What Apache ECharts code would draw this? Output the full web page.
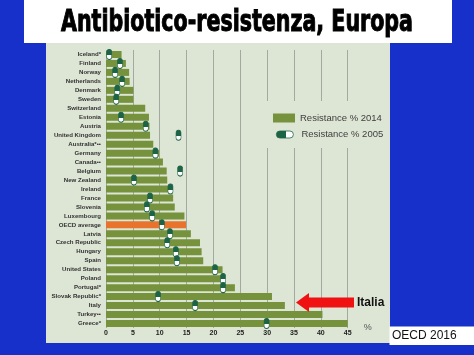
<!DOCTYPE html>
<html><head><meta charset="utf-8">
<script src="https://cdn.jsdelivr.net/npm/echarts/dist/echarts.min.js"></script>
<style>html,body{margin:0;padding:0;background:#1730c9;}#c{width:474px;height:355px;}</style>
</head><body><div id="c"></div>
<script>
const categories = ['Iceland*','Finland','Norway','Netherlands','Denmark','Sweden','Switzerland','Estonia','Austria','United Kingdom','Australia*••','Germany','Canada••','Belgium','New Zealand','Ireland','France','Slovenia','Luxembourg','OECD average','Latvia','Czech Republic','Hungary','Spain','United States','Poland','Portugal*','Slovak Republic*','Italy','Turkey••','Greece*'];
const resistance2014 = [2.9,3.7,4.3,4.4,5.1,5.1,7.3,8.0,8.1,8.2,8.8,9.9,10.6,11.3,11.4,12.2,12.5,12.8,14.6,14.9,15.8,17.5,17.8,18.1,21.7,21.8,24.0,30.9,33.3,40.3,45.0];
const resistance2005 = [0.6,2.6,1.7,3.0,2.1,1.9,null,2.8,7.4,13.5,null,9.2,null,13.8,5.2,12.0,8.2,7.6,8.6,10.4,11.9,11.4,13.0,13.2,20.3,21.8,21.8,9.7,16.6,null,29.9];
const xTicks = [0,5,10,15,20,25,30,35,40,45];
const seriesNames = ['Resistance % 2014','Resistance % 2005'];
const titleText = 'Antibiotico-resistenza, Europa';
const noteText = 'OECD 2016';
const arrowLabel = 'Italia';
const highlightCategory = 'OECD average';

const DARK = '#1d6447';
const pillV = 'path://M0,2.5A2.5,2.5,0,0,1,5,2.5L5,7.5A2.5,2.5,0,0,1,0,7.5Z';
const pillH = 'path://M3.5,0L13.5,0A3.5,3.5,0,0,1,13.5,7L3.5,7A3.5,3.5,0,0,1,3.5,0Z';
const gradV = new echarts.graphic.LinearGradient(0,0,0,1,[{offset:0,color:DARK},{offset:0.55,color:DARK},{offset:0.55,color:'#ffffff'},{offset:1,color:'#ffffff'}]);
const gradH = new echarts.graphic.LinearGradient(0,0,1,0,[{offset:0,color:DARK},{offset:0.55,color:DARK},{offset:0.55,color:'#ffffff'},{offset:1,color:'#ffffff'}]);

const titleFontFamily = "'DejaVu Sans Condensed','DejaVu Sans',sans-serif";
const ctx = document.createElement('canvas').getContext('2d');
ctx.font = "bold 30px " + titleFontFamily;
const tScale = 352 / ctx.measureText(titleText).width;

const chart = echarts.init(document.getElementById('c'), null, {renderer:'canvas'});
chart.setOption({
  backgroundColor:'#1730c9',
  animation:false,
  grid:{left:106, width:241.7, top:50, height:278},
  xAxis:{type:'value', min:xTicks[0], max:xTicks[xTicks.length-1], interval:5,
    axisLine:{show:false}, axisTick:{show:false},
    splitLine:{show:true, lineStyle:{color:'#a2a9a0', width:1}},
    axisLabel:{margin:2, fontSize:7, fontWeight:'bold', color:'#222', fontFamily:"'Liberation Sans',sans-serif"},
    name:'%', nameLocation:'end', nameGap:16,
    nameTextStyle:{color:'#555', fontSize:9, verticalAlign:'middle', fontFamily:"'Liberation Sans',sans-serif"}
  },
  yAxis:{type:'category', data:categories, inverse:true,
    axisLine:{show:false}, axisTick:{show:false},
    axisLabel:{margin:5, fontSize:6.1, fontWeight:'bold', color:'#333', fontFamily:"'Liberation Sans',sans-serif", interval:0}
  },
  legend:[
    {data:[{name:seriesNames[0], icon:'rect'}], left:273, top:113, orient:'vertical', itemWidth:22, itemHeight:9, padding:0,
     textStyle:{fontSize:9.5, color:'#404040', fontFamily:"'Liberation Sans',sans-serif"}, selectedMode:false},
    {data:[{name:seriesNames[1], icon:pillH, itemStyle:{color:gradH, borderColor:DARK, borderWidth:0.8}}], left:276, top:129.5, orient:'vertical', itemWidth:17, itemHeight:7, padding:0,
     textStyle:{fontSize:9.5, color:'#404040', fontFamily:"'Liberation Sans',sans-serif", padding:[0,0,0,3]}, selectedMode:false}
  ],
  series:[
    {name:seriesNames[0], type:'bar', barWidth:7,
     itemStyle:{color:'#76923c'},
     data:resistance2014.map((v,i)=> categories[i]===highlightCategory ? {value:v, itemStyle:{color:'#e8732c'}} : v)},
    {name:seriesNames[1], type:'scatter', symbol:pillV, symbolSize:[5,10], z:5,
     itemStyle:{color:gradV, borderColor:DARK, borderWidth:0.8, opacity:1},
     data:resistance2005.map((v,i)=>[v,categories[i]]).filter(d=>d[0]!==null)}
  ],
  graphic:[
    {type:'rect', z:-10, shape:{x:46,y:43,width:344,height:300}, style:{fill:'#dde5d4'}},
    {type:'rect', z:-10, shape:{x:24,y:0,width:428,height:43}, style:{fill:'#ffffff'}},
    {type:'text', z:10, x:61, y:23, scaleX:tScale, style:{text:titleText, fontSize:30, fontWeight:'bold', fontFamily:titleFontFamily, fill:'#000', stroke:'#000', lineWidth:1, align:'left', verticalAlign:'middle'}},
    {type:'rect', z:1, shape:{x:252,y:101,width:136,height:47}, style:{fill:'#dde5d4'}},
    {type:'polygon', z:10, shape:{points:[[296,302.5],[309,293],[309,297.5],[354,297.5],[354,307.5],[309,307.5],[309,312]]}, style:{fill:'#f01212'}},
    {type:'text', z:10, x:357, y:302.5, style:{text:arrowLabel, fontSize:12, fontWeight:'bold', fontFamily:"'Liberation Sans',sans-serif", fill:'#111', verticalAlign:'middle'}},
    {type:'rect', z:10, shape:{x:389.5,y:326.5,width:84.5,height:18.5}, style:{fill:'#ffffff'}},
    {type:'text', z:11, x:392, y:336, style:{text:noteText, fontSize:12, fontFamily:"'Liberation Sans',sans-serif", fill:'#111', verticalAlign:'middle'}}
  ]
});
</script></body></html>
